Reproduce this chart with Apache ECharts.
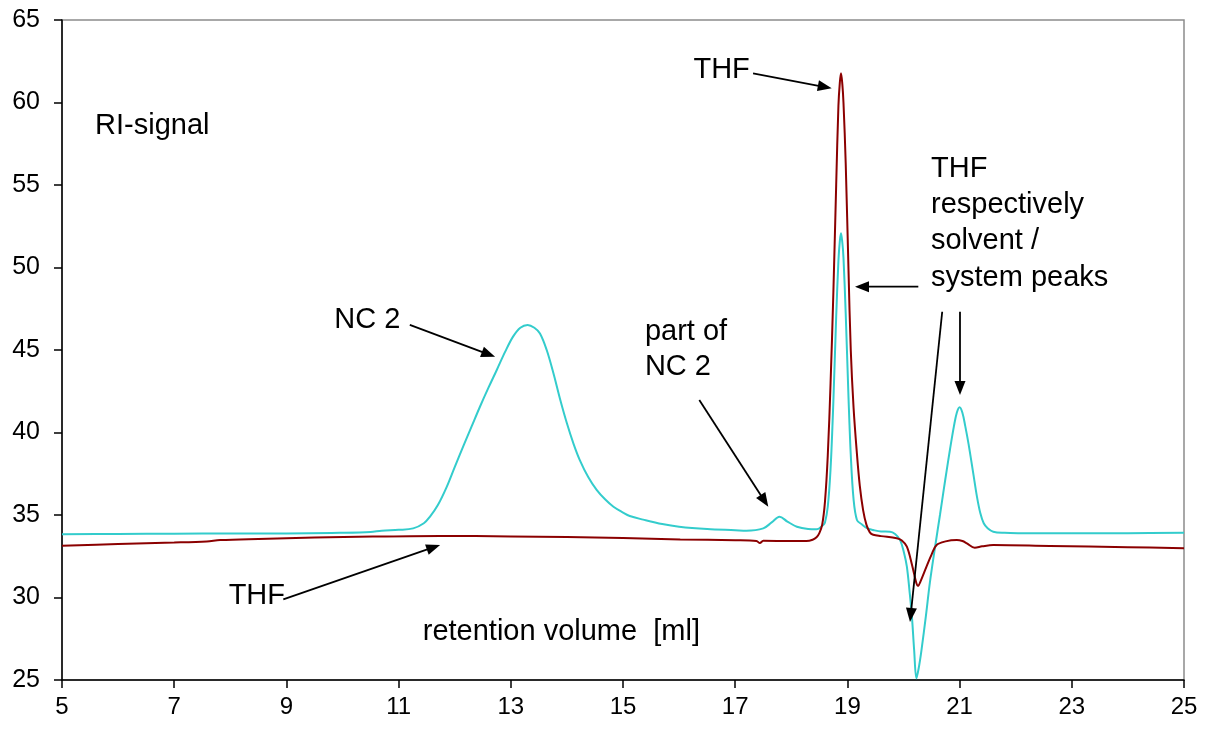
<!DOCTYPE html>
<html>
<head>
<meta charset="utf-8">
<title>RI-signal chromatogram</title>
<script src="https://cdn.jsdelivr.net/npm/echarts@6/dist/echarts.min.js"></script>
<style>
  html, body { margin: 0; padding: 0; background: #fff; }
  #chart { width: 1209px; height: 731px; }
</style>
</head>
<body>
<div id="chart"></div>
<script>
// Retention volume tick labels [ml]
const xTicks = [5, 7, 9, 11, 13, 15, 17, 19, 21, 23, 25];

// Sample trace (NC 2 in THF): [retention volume, RI-signal]
const sampleTrace = [
  [5.0, 33.83], [6.0, 33.85], [7.0, 33.87], [8.0, 33.88], [9.0, 33.88], [10.0, 33.92],
  [10.5, 33.97], [10.7, 34.05], [11.0, 34.10], [11.26, 34.19], [11.45, 34.5], [11.56, 34.9],
  [11.7, 35.6], [11.86, 36.72], [12.0, 37.9], [12.15, 39.14], [12.3, 40.35], [12.45, 41.56],
  [12.6, 42.7], [12.75, 43.79], [12.9, 44.9], [13.04, 45.81], [13.17, 46.35], [13.30, 46.52],
  [13.42, 46.35], [13.52, 46.0], [13.64, 45.0], [13.76, 43.59], [13.88, 42.0], [14.0, 40.56],
  [14.12, 39.3], [14.23, 38.33], [14.38, 37.3], [14.53, 36.52], [14.68, 35.95], [14.83, 35.50],
  [15.0, 35.15], [15.12, 34.94], [15.36, 34.72], [15.7, 34.45], [16.0, 34.29], [16.5, 34.15],
  [17.0, 34.08], [17.2, 34.05], [17.5, 34.19], [17.65, 34.55], [17.79, 34.9], [17.93, 34.6],
  [18.1, 34.29], [18.3, 34.15], [18.45, 34.13], [18.57, 34.4], [18.60, 34.54], [18.65, 35.5],
  [18.70, 37.8], [18.75, 41.9], [18.80, 47.0], [18.84, 50.4], [18.865, 51.6], [18.886, 52.07],
  [18.91, 51.5], [18.93, 50.6], [18.97, 47.2], [19.02, 42.1], [19.06, 38.65], [19.11, 35.95],
  [19.17, 34.7], [19.25, 34.45], [19.35, 34.2], [19.46, 34.09], [19.6, 34.0], [19.76, 33.99],
  [19.85, 33.85], [19.94, 33.48], [20.01, 32.7], [20.06, 31.87], [20.11, 30.3], [20.15, 28.84],
  [20.19, 26.8], [20.23, 25.1], [20.27, 25.7], [20.32, 26.8], [20.40, 28.9], [20.47, 30.9],
  [20.56, 33.0], [20.65, 35.0], [20.72, 36.6], [20.77, 37.7], [20.83, 39.0], [20.90, 40.4],
  [20.95, 41.2], [21.0, 41.53], [21.05, 41.2], [21.10, 40.4], [21.16, 39.3], [21.24, 37.6],
  [21.31, 36.1], [21.37, 35.1], [21.43, 34.5], [21.5, 34.2], [21.60, 33.99], [21.8, 33.92],
  [22.08, 33.9], [23.0, 33.89], [24.0, 33.9], [25.0, 33.93]
];

// Solvent trace (THF): [retention volume, RI-signal]
const solventTrace = [
  [5.0, 33.14], [6.0, 33.24], [7.0, 33.33], [7.58, 33.40], [7.82, 33.48], [8.5, 33.55],
  [9.5, 33.63], [10.54, 33.69], [11.74, 33.73], [13.0, 33.70], [14.0, 33.66], [15.0, 33.6],
  [16.02, 33.52], [17.0, 33.47], [17.38, 33.42], [17.44, 33.30], [17.5, 33.44], [18.0, 33.42],
  [18.27, 33.42], [18.38, 33.5], [18.45, 33.65], [18.50, 33.9], [18.55, 34.4], [18.60, 35.8],
  [18.65, 38.6], [18.70, 43.0], [18.75, 48.5], [18.80, 55.0], [18.84, 59.8], [18.865, 61.2],
  [18.886, 61.77], [18.91, 61.1], [18.93, 60.0], [18.97, 56.3], [19.02, 49.8], [19.06, 45.0],
  [19.11, 41.5], [19.17, 38.7], [19.22, 36.8], [19.28, 35.3], [19.34, 34.4], [19.40, 33.95],
  [19.46, 33.8], [19.6, 33.72], [19.88, 33.59], [19.97, 33.45], [20.06, 33.08], [20.15, 32.0],
  [20.23, 30.86], [20.26, 30.70], [20.30, 30.95], [20.41, 31.87], [20.50, 32.6], [20.59, 33.18],
  [20.75, 33.4], [20.95, 33.48], [21.05, 33.42], [21.13, 33.28], [21.27, 33.02], [21.40, 33.1],
  [21.60, 33.18], [22.61, 33.12], [24.0, 33.05], [25.0, 32.98]
];

// Text notes: [x, y] anchor in data units, alignment
const notes = [
  { text: 'RI-signal', at: [5.59, 58.6], align: 'left' },
  { text: 'THF', at: [17.26, 61.97], align: 'right' },
  { text: 'THF', at: [20.49, 56.0], align: 'left' },
  { text: 'respectively', at: [20.49, 53.79], align: 'left' },
  { text: 'solvent /', at: [20.49, 51.58], align: 'left' },
  { text: 'system peaks', at: [20.49, 49.36], align: 'left' },
  { text: 'NC 2', at: [11.03, 46.82], align: 'right' },
  { text: 'part of', at: [15.39, 46.09], align: 'left' },
  { text: 'NC 2', at: [15.39, 43.99], align: 'left' },
  { text: 'THF', at: [8.975, 30.12], align: 'right' },
  { text: 'retention volume  [ml]', at: [11.43, 27.9], align: 'left' }
];

// Pointer arrows: from -> to, in data units
const arrows = [
  { from: [17.318, 61.77], to: [18.72, 60.86] },
  { from: [20.264, 48.84], to: [19.135, 48.84] },
  { from: [20.69, 47.32], to: [20.116, 28.52] },
  { from: [21.007, 47.32], to: [21.007, 42.27] },
  { from: [11.2, 46.52], to: [12.72, 44.59] },
  { from: [16.36, 41.97], to: [17.59, 35.50] },
  { from: [8.945, 29.89], to: [11.74, 33.18] }
];

const FONT = '"Liberation Sans", Arial, Helvetica, sans-serif';

const chart = echarts.init(document.getElementById('chart'), null, { renderer: 'canvas' });

chart.setOption({
  animation: false,
  backgroundColor: '#ffffff',
  grid: {
    left: 62, right: 25, top: 20, bottom: 51,
    show: true, borderColor: '#8c8c8c', borderWidth: 1.5, backgroundColor: 'transparent'
  },
  xAxis: {
    type: 'value', min: 5, max: 25,
    axisLine: { show: true, onZero: false, lineStyle: { color: '#000', width: 1.5 } },
    axisTick: { show: true, length: 8, customValues: xTicks, lineStyle: { color: '#000', width: 1.5 } },
    axisLabel: {
      customValues: xTicks, margin: 15, color: '#000',
      fontFamily: FONT, fontSize: 24
    },
    splitLine: { show: false }
  },
  yAxis: {
    type: 'value', min: 25, max: 65, interval: 5,
    axisLine: { show: true, onZero: false, lineStyle: { color: '#000', width: 1.5 } },
    axisTick: { show: true, length: 8, lineStyle: { color: '#000', width: 1.5 } },
    axisLabel: { margin: 22, color: '#000', fontFamily: FONT, fontSize: 25 },
    splitLine: { show: false }
  },
  series: [
    {
      name: 'NC 2', type: 'line', data: sampleTrace, showSymbol: false,
      smooth: 0.35,
      lineStyle: { color: '#33cccc', width: 2 }, z: 2
    },
    {
      name: 'THF', type: 'line', data: solventTrace, showSymbol: false,
      smooth: 0.35,
      lineStyle: { color: '#8b0000', width: 2 }, z: 3
    }
  ]
});

// Notes and arrows are placed through the grid's own coordinate conversion
function px(p) { return chart.convertToPixel({ gridIndex: 0 }, p); }

const graphics = [];
notes.forEach(n => {
  const p = px(n.at);
  graphics.push({
    type: 'text', x: p[0], y: p[1], z: 10,
    style: {
      text: n.text, fill: '#000', font: '29px ' + FONT,
      textAlign: n.align, textVerticalAlign: 'middle'
    }
  });
});
arrows.forEach(a => {
  const s = px(a.from), t = px(a.to);
  const dx = t[0] - s[0], dy = t[1] - s[1];
  const len = Math.sqrt(dx * dx + dy * dy);
  const ux = dx / len, uy = dy / len;
  const nx = -uy, ny = ux;
  const L = 14, W = 5.5;
  const bx = t[0] - ux * L, by = t[1] - uy * L;
  graphics.push({
    type: 'line', z: 10,
    shape: { x1: s[0], y1: s[1], x2: bx + ux * 2, y2: by + uy * 2 },
    style: { stroke: '#000', lineWidth: 1.8 }
  });
  graphics.push({
    type: 'polygon', z: 10,
    shape: { points: [[t[0], t[1]], [bx + nx * W, by + ny * W], [bx - nx * W, by - ny * W]] },
    style: { fill: '#000' }
  });
});
chart.setOption({ graphic: graphics });
</script>
</body>
</html>
